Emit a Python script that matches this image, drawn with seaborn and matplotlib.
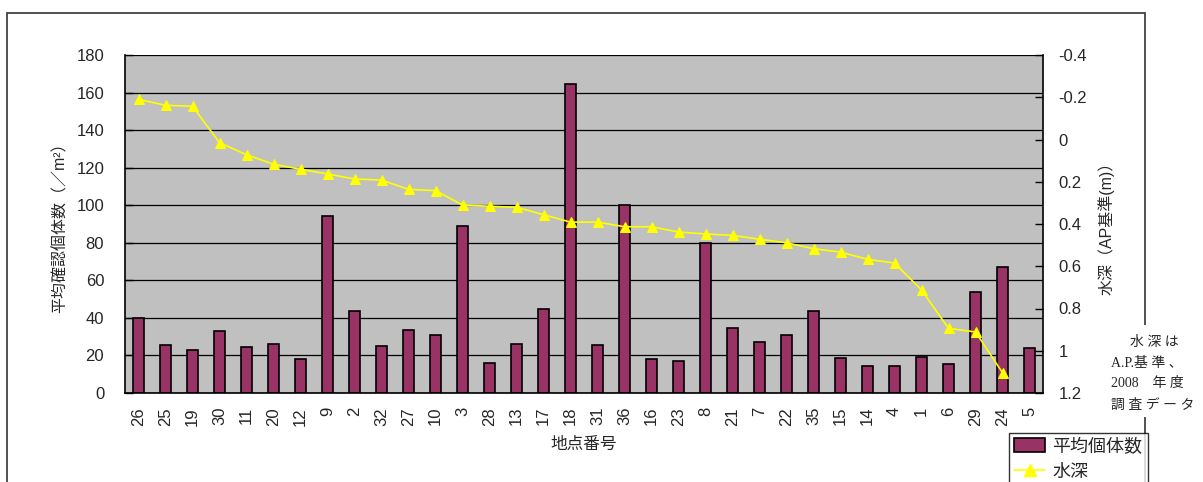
import numpy as np
import pandas as pd
import matplotlib
matplotlib.use("Agg")
import matplotlib.pyplot as plt
import seaborn as sns
from matplotlib.patches import Rectangle, Patch
from matplotlib.lines import Line2D

sites = ["26", "25", "19", "30", "11", "20", "12", "9", "2", "32", "27", "10", "3", "28",
         "13", "17", "18", "31", "36", "16", "23", "8", "21", "7", "22", "35", "15", "14",
         "4", "1", "6", "29", "24", "5"]
counts = [39.7, 25.6, 23.0, 32.8, 24.3, 26.3, 18.1, 94.4, 43.7, 24.8, 33.3, 30.9, 88.7, 16.0,
          26.3, 45.0, 164.5, 25.6, 100.0, 17.9, 17.2, 79.7, 34.8, 27.0, 30.9, 43.8, 18.4, 14.2,
          14.2, 19.2, 15.4, 53.9, 66.9, 23.7]
depth = [-0.19, -0.162, -0.157, 0.015, 0.072, 0.117, 0.141, 0.163, 0.187, 0.192, 0.236, 0.242,
         0.31, 0.316, 0.321, 0.356, 0.391, 0.391, 0.413, 0.413, 0.438, 0.447, 0.454, 0.472,
         0.489, 0.517, 0.533, 0.567, 0.585, 0.712, 0.894, 0.911, 1.104, np.nan]
left_ticks = [0, 20, 40, 60, 80, 100, 120, 140, 160, 180]
right_ticks = [-0.4, -0.2, 0, 0.2, 0.4, 0.6, 0.8, 1, 1.2]
right_labels = ["-0.4", "-0.2", "0", "0.2", "0.4", "0.6", "0.8", "1", "1.2"]

sns.set_style("white")
plt.rcParams['font.family'] = ['Liberation Sans', 'Noto Sans CJK JP']

W, H = 1203, 482
fig = plt.figure(figsize=(W / 100, H / 100), dpi=100)
fig.patch.set_facecolor("white")

# outer chart border
fig.patches.append(Rectangle((7 / W, -0.2), (1145 - 7) / W, (H - 13) / H + 0.2,
                             transform=fig.transFigure, fill=False, edgecolor="#333333",
                             linewidth=1.2, zorder=0))

L, R, T, B = 125, 1043, 55, 393
ax = fig.add_axes([L / W, 1 - B / H, (R - L) / W, (B - T) / H])
ax.set_facecolor("#C0C0C0")

df = pd.DataFrame({"site": sites, "count": counts})
sns.barplot(data=df, x="site", y="count", order=sites, color="#993366", saturation=1,
            width=0.42, edgecolor="black", linewidth=1.2, ax=ax, zorder=3)

ax.set_ylim(0, 180)
ax.set_xlim(-0.5, len(sites) - 0.5)
ax.set_yticks(left_ticks)
ax.set_yticklabels([str(t) for t in left_ticks], fontsize=12)
ax.yaxis.grid(True, color="black", linewidth=0.9, zorder=1)
ax.set_axisbelow(True)
ax.tick_params(axis="y", direction="in", length=6, width=1, color="black", pad=15)
ax.set_xticks(range(len(sites)))
ax.set_xticklabels(sites, rotation=90, fontsize=12)
ax.tick_params(axis="x", which="major", length=0, pad=10)
ax.set_xticks(np.arange(-0.5, len(sites), 1), minor=True)
ax.tick_params(axis="x", which="minor", direction="in", length=5, width=1, color="#555555")
for s in ["top", "right"]:
    ax.spines[s].set_visible(False)
for s in ["left", "bottom"]:
    ax.spines[s].set_color("black")
    ax.spines[s].set_linewidth(1.2)
    ax.spines[s].set_zorder(5)
ax.set_xlabel("地点番号", fontsize=12, labelpad=8)
ax.set_ylabel("平均確認個体数（／m²）", fontsize=11.5, labelpad=6)

ax2 = ax.twinx()
pos = np.arange(len(sites))
sns.lineplot(x=pos, y=depth, ax=ax2, color="#FFFF00", linewidth=1.2, marker="^",
             markersize=7, markeredgecolor="#FFFF00", markerfacecolor="#FFFF00", zorder=4)
ax2.set_ylim(1.2, -0.4)
ax2.set_yticks(right_ticks)
ax2.set_yticklabels(right_labels, fontsize=12)
ax2.tick_params(axis="y", direction="in", length=6, width=1, color="black", pad=11)
for s in ["top", "left", "bottom"]:
    ax2.spines[s].set_visible(False)
ax2.spines["right"].set_color("black")
ax2.spines["right"].set_linewidth(1.2)
ax2.set_ylabel("水深（AP基準(m)）", fontsize=11.5, labelpad=8)
ax2.set_xlim(-0.5, len(sites) - 0.5)

# annotation box
fig.patches.append(Rectangle((1106 / W, 1 - 417 / H), 97 / W, 92 / H, transform=fig.transFigure,
                             facecolor="white", edgecolor="none", zorder=1))
serif = ['Liberation Serif', 'Noto Sans CJK JP']
lines = [("水 深 は", 1130, 342), ("A.P.基 準 、", 1111, 363),
         ("2008　年 度", 1111, 384), ("調 査 デ ー タ", 1111, 405)]
for txt, x, y in lines:
    fig.text(x / W, 1 - y / H, txt, family=serif, fontsize=10, ha="left", va="center",
             zorder=3)

handles = [Patch(facecolor="#993366", edgecolor="black", linewidth=1.2),
           Line2D([0], [0], color="#FFFF00", linewidth=1.2, marker="^", markersize=8,
                  markerfacecolor="#FFFF00", markeredgecolor="#FFFF00")]
leg = fig.legend(handles, ["平均個体数", "水深"], loc="upper left",
                 bbox_to_anchor=(1009 / W, 1 - 433 / H), frameon=True, fancybox=False,
                 edgecolor="black", fontsize=13, borderpad=0.3, labelspacing=0.45,
                 handlelength=1.7, handleheight=0.8, handletextpad=0.4, borderaxespad=0)
leg.get_frame().set_linewidth(1.0)

fig.savefig("out.png", dpi=100, facecolor="white")
